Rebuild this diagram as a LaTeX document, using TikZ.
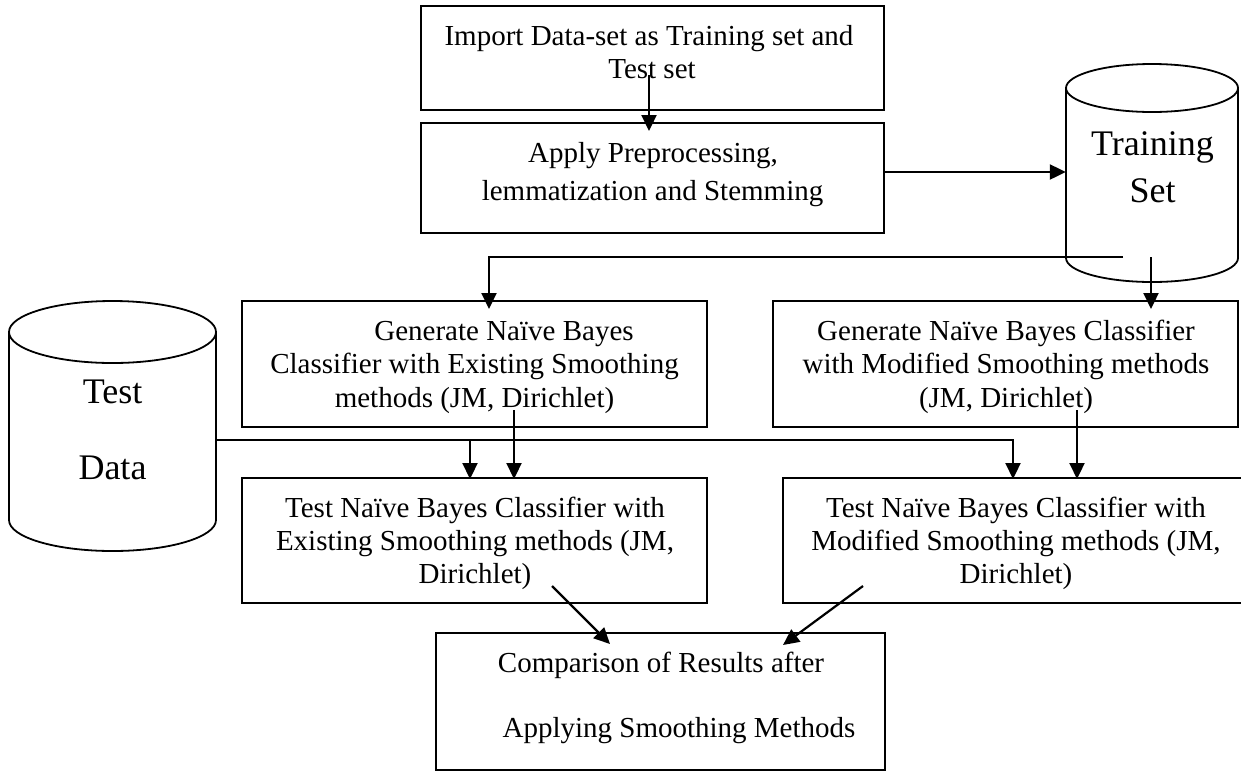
\documentclass[tikz,border=0pt]{standalone}
\usepackage{fontspec}
\setmainfont{Liberation Serif}
\usetikzlibrary{arrows.meta}
\begin{document}
\begin{tikzpicture}[x=1pt,y=-1pt,
  box/.style={draw, line width=2pt, inner sep=0pt},
  ghost/.style={inner sep=0pt},
  txt/.style={anchor=base, inner sep=0pt, font=\fontsize{29}{33}\selectfont},
  bigtxt/.style={anchor=base, inner sep=0pt, font=\fontsize{36}{40}\selectfont},
  arr/.style={line width=2.2pt, -{Triangle[length=16pt,width=15pt]}},
  plain/.style={line width=1.8pt}]
\useasboundingbox (0,0) rectangle (1241,772);
\clip (0,0) rectangle (1241,772);

% boxes
\node[box, minimum width=463pt, minimum height=104pt] (b1) at (652.5,58) {};
\node[box, minimum width=463pt, minimum height=110pt] (b2) at (652.5,178) {};
\node[box, minimum width=465pt, minimum height=126pt] (ge) at (474.5,364) {};
\node[box, minimum width=465pt, minimum height=126pt] (gm) at (1005.5,364) {};
\node[box, minimum width=465pt, minimum height=125pt] (te) at (474.5,540.5) {};
\node[box, minimum width=466pt, minimum height=125pt] (tm) at (1016,540.5) {};
\node[box, minimum width=449pt, minimum height=137pt] (cmp) at (660.5,701.5) {};

% cylinders
\draw[plain] (1152,88) ellipse [x radius=86pt, y radius=24pt];
\draw[plain] (1066,88) -- (1066,258) arc[start angle=180, end angle=360, x radius=86pt, y radius=24pt] -- (1238,88);
\node[ghost, minimum width=172pt, minimum height=170pt] (tr) at (1152,173) {};
\draw[plain] (112.5,332) ellipse [x radius=103.5pt, y radius=31pt];
\draw[plain] (9,332) -- (9,520) arc[start angle=180, end angle=360, x radius=103.5pt, y radius=31pt] -- (216,332);
\node[ghost, minimum width=207pt, minimum height=188pt] (td) at (112.5,426) {};

% texts
\node[txt] (t1a) at (649,45) {Import Data-set as Training set and};
\node[txt] (t1b) at (652,78) {Test set};
\node[txt] (t2a) at (653,162) {Apply Preprocessing,};
\node[txt] (t2b) at (652.5,200) {lemmatization and Stemming};
\node[bigtxt] (ttr1) at (1152.5,155) {Training};
\node[bigtxt] (ttr2) at (1152.5,202) {Set};
\node[bigtxt] (ttd1) at (112.5,403) {Test};
\node[bigtxt] (ttd2) at (112.5,479) {Data};
\node[txt] (tge1) at (504,340) {Generate Naïve Bayes};
\node[txt] (tge2) at (474.5,373) {Classifier with Existing Smoothing};
\node[txt] (tge3) at (474.5,407) {methods (JM, Dirichlet)};
\node[txt] (tgm1) at (1006,340) {Generate Naïve Bayes Classifier};
\node[txt] (tgm2) at (1006,373) {with Modified Smoothing methods};
\node[txt] (tgm3) at (1006,407) {(JM, Dirichlet)};
\node[txt] (tte1) at (475,517) {Test Naïve Bayes Classifier with};
\node[txt] (tte2) at (475,550) {Existing Smoothing methods (JM,};
\node[txt] (tte3) at (475,583) {Dirichlet)};
\node[txt] (ttm1) at (1016,517) {Test Naïve Bayes Classifier with};
\node[txt] (ttm2) at (1016,550) {Modified Smoothing methods (JM,};
\node[txt] (ttm3) at (1016,583) {Dirichlet)};
\node[txt] (tc1) at (661,672) {Comparison of Results after};
\node[txt] (tc2) at (679,737) {Applying Smoothing Methods};

% connectors
\coordinate (a1) at (649,75);
\draw[arr, shorten >=-9pt] (a1) -- (a1 |- b2.north);
\draw[arr] ([yshift=6pt]b2.east) -- ([yshift=6pt]b2.east -| tr.west);
\coordinate (trA) at (1123,257);
\draw[arr, shorten >=-9pt] (trA) -| ([xshift=14.5pt]ge.north);
\coordinate (trB) at (1151,257);
\draw[arr, shorten >=-9pt] (trB) -- (trB |- gm.north);
\draw[arr, shorten >=-2pt] ([yshift=-14pt]td.east) -| ([xshift=-3pt]tm.north);
\coordinate (br) at (470,440);
\draw[arr, shorten >=-2pt] (br) -- (br |- te.north);
\coordinate (a2) at (514,410);
\draw[arr, shorten >=-2pt] (a2) -- (a2 |- te.north);
\coordinate (a3) at (1077,410);
\draw[arr, shorten >=-2pt] (a3) -- (a3 |- tm.north);
\coordinate (a4) at (552,586);
\coordinate (a4e) at (610,644);
\draw[arr] (a4) -- (a4e);
\coordinate (a5) at (863,586);
\coordinate (a5e) at (783,645);
\draw[arr] (a5) -- (a5e);
\end{tikzpicture}
\end{document}
